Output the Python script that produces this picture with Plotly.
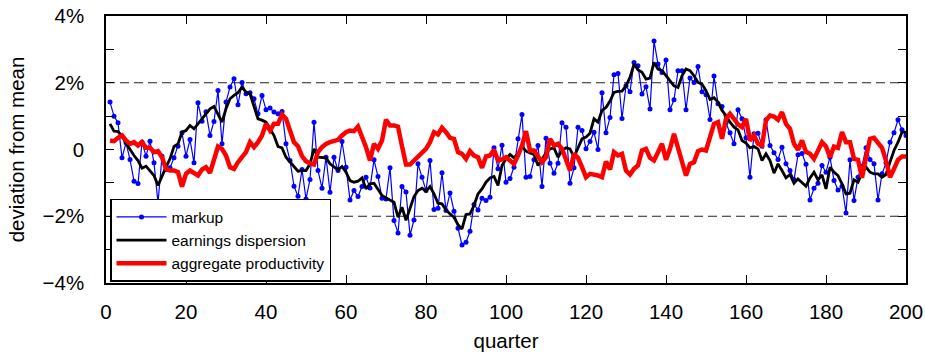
import plotly.graph_objects as go

quarters = list(range(1, 201))

markup = [
    1.42, 1.0, 0.8, -0.25, 0.2, -0.3, -0.95, -1.02, 0.22, -0.2,
    0.25, -0.4, -1.6, -0.2, -0.6, -0.55, -0.25, 0.1, 0.5, -0.2,
    0.3, -0.4, 1.4, 0.85, 1.13, 0.42, 0.84, 1.77, 0.17, 1.42,
    1.87, 2.12, 1.34, 2.01, 1.67, 1.7, 1.52, 1.07, 1.62, 1.19,
    1.24, 1.12, 1.07, 1.14, 0.17, -0.33, -1.1, -1.4, -0.6, -1.48,
    -0.9, 0.82, -0.63, -1.16, -0.23, -1.28, -0.23, -0.63, 0.24, -0.53,
    -1.51, -1.23, -1.41, -1.11, -0.83, -1.15, -0.31, -0.81, -1.46, -1.48,
    -0.55, -2.13, -2.5, -1.11, -1.27, -2.57, -2.11, -0.43, -0.83, -1.23,
    -0.33, -1.8, -1.76, -0.7, -1.83, -1.3, -1.85, -2.36, -2.86, -2.78,
    -2.45, -1.65, -1.81, -1.46, -1.53, -1.43, 0.05, -0.58, 0.13, -0.98,
    -0.87, -0.53, 0.32, 1.05, -0.83, -0.81, -0.31, 0.12, -1.11, 0.34,
    -0.41, -0.71, -0.41, 0.8, 0.67, -1.01, -0.55, 0.67, 0.57, 0.02,
    0.24, 0.52, 0.0, 1.7, 0.5, 0.96, 2.24, 2.28, 0.93, 1.91,
    1.73, 2.61, 2.51, 1.66, 1.88, 1.21, 3.25, 2.56, 2.31, 2.68,
    1.19, 1.49, 2.36, 2.36, 1.19, 2.14, 2.01, 2.49, 1.73, 1.64,
    0.9, 2.2, 1.37, 1.29, 0.8, 0.5, 0.17, 1.19, 0.92, 0.35,
    -0.83, 0.47, 0.49, 0.1, 0.89, 0.12, -0.1, -0.3, 0.07, -0.43,
    -0.63, -0.9, -0.16, -0.12, -0.44, -1.51, -1.16, -1.01, -0.48, -0.68,
    -0.23, -0.93, -1.21, -1.1, -1.9, -0.31, -1.53, -0.83, -0.5, 0.05,
    -0.3, -0.43, -1.51, -0.73, -0.4, 0.22, 0.5, 0.89, 0.59, 0.42,
]

earnings_dispersion = [
    0.77, 0.55, 0.54, 0.4, 0.19, 0.0, -0.18, -0.33, -0.56, -0.5,
    -0.63, -0.78, -1.08, -0.78, -0.53, -0.28, 0.09, 0.17, 0.52, 0.57,
    0.72, 0.62, 0.77, 0.94, 1.07, 1.22, 1.29, 1.05, 0.82, 1.22,
    1.52, 1.62, 1.7, 1.87, 1.72, 1.67, 1.3, 0.92, 0.88, 0.82,
    0.62, 0.42, 0.09, 0.05, -0.23, -0.38, -0.51, -0.65, -0.63, -0.63,
    -0.43, 0.02, -0.23, -0.25, -0.25, -0.43, -0.51, -0.61, -0.51, -0.68,
    -0.93, -0.98, -0.95, -0.85, -1.18, -1.03, -1.01, -1.18, -1.38, -1.45,
    -1.51, -1.58, -2.03, -1.73, -2.12, -1.73, -1.41, -1.23, -1.16, -1.25,
    -1.11, -1.33, -1.61, -1.63, -1.81, -1.93, -2.03, -2.25, -2.38, -1.95,
    -1.93, -1.68, -1.33, -1.18, -0.98, -0.85, -0.81, -1.08, -0.48, -0.28,
    -0.15, -0.25, -0.13, 0.09, -0.05, -0.1, -0.15, -0.48, -0.28, -0.1,
    0.02, 0.05, -0.23, -0.03, 0.05, 0.02, -0.23, 0.02, 0.32, 0.37,
    0.49, 0.92, 0.82, 1.17, 1.26, 1.45, 1.71, 1.74, 1.75, 1.91,
    2.16, 2.56, 2.38, 2.31, 2.11, 2.14, 2.61, 2.41, 2.36, 2.21,
    2.06, 1.91, 1.86, 2.21, 2.41, 2.36, 2.21, 2.01, 1.96, 1.76,
    1.5, 1.55, 1.42, 1.17, 1.02, 0.82, 0.67, 0.59, 0.27, 0.19,
    0.05, 0.09, 0.02, -0.33, -0.13, -0.33, -0.71, -0.43, -0.63, -0.85,
    -0.75, -1.01, -0.88, -0.98, -1.1, -0.85, -0.68, -0.91, -0.76, -1.18,
    -0.53, -0.68, -0.78, -1.03, -1.33, -1.31, -0.91, -0.98, -0.7, -0.53,
    -0.68, -0.73, -0.73, -0.83, -0.75, -0.38, -0.03, 0.22, 0.52, 0.52,
]

aggregate_productivity = [
    0.27, 0.25, 0.35, 0.42, 0.27, 0.17, 0.22, 0.12, 0.22, 0.05,
    0.05, -0.08, -0.05, -0.23, -0.58, -0.63, -0.63, -0.68, -1.11, -0.73,
    -0.63, -0.71, -0.78, -0.6, -0.53, -0.7, -0.28, 0.09, 0.02, -0.18,
    -0.53, -0.58, -0.38, -0.23, -0.08, 0.22, 0.07, 0.22, 0.42, 0.77,
    0.57, 0.77, 0.77, 1.05, 0.92, 0.57, 0.22, 0.1, -0.2, -0.35,
    -0.42, -0.45, -0.08, 0.07, 0.17, 0.22, 0.27, 0.29, 0.42, 0.52,
    0.57, 0.55, 0.69, 0.42, 0.07, -0.33, 0.17, 0.02, 0.27, 0.89,
    0.72, 0.72, 0.68, 0.1, -0.45, -0.45, -0.33, -0.25, -0.1, 0.02,
    0.22, 0.52, 0.45, 0.65, 0.52, 0.35, 0.32, -0.08, -0.13, -0.28,
    -0.05, -0.18, -0.23, -0.55, -0.21, -0.18, -0.01, -0.33, -0.3, -0.23,
    -0.33, -0.43, -0.18, 0.12, 0.55, -0.03, -0.03, -0.23, -0.38, -0.23,
    0.32, 0.12, 0.17, 0.02, -0.33, -0.63, -0.13, -0.25, -0.53, -0.83,
    -0.73, -0.75, -0.78, -0.83, -0.36, -0.6, -0.08, -0.18, -0.13, -0.63,
    -0.75, -0.58, -0.48, -0.03, 0.02, -0.25, -0.33, -0.08, 0.17, -0.31,
    0.02, 0.47, 0.05, -0.33, -0.78, -0.43, -0.38, -0.05, 0.0, -0.03,
    0.4, 0.77, 0.82, 0.32, 0.92, 1.07, 0.92, 0.75, 0.67, 0.92,
    0.27, 0.42, 0.17, 0.12, 0.87, 1.02, 0.99, 0.89, 1.12, 0.77,
    0.62, 0.17, -0.01, 0.27, -0.07, -0.13, -0.28, -0.05, 0.22, 0.09,
    -0.23, 0.09, 0.05, 0.52, 0.22, 0.22, -0.28, -0.31, -0.85, -0.23,
    0.32, 0.35, 0.17, 0.05, -0.33, -0.83, -0.58, -0.31, -0.21, -0.21,
]

x_tick_vals = [0, 20, 40, 60, 80, 100, 120, 140, 160, 180, 200]
y_tick_vals = [-4, -3, -2, -1, 0, 1, 2, 3, 4]
y_tick_text = ["\u22124%", "", "\u22122%", "", "0", "", "2%", "", "4%"]
reference_levels = [-2, 2]

FONT = "Liberation Sans, Arial, Helvetica, sans-serif"

fig = go.Figure()
fig.add_trace(go.Scatter(
    x=quarters, y=markup, name="markup", mode="lines+markers",
    line=dict(color="#0000ff", width=1.2),
    marker=dict(color="#0000ff", size=5),
))
fig.add_trace(go.Scatter(
    x=quarters, y=earnings_dispersion, name="earnings dispersion", mode="lines",
    line=dict(color="#000000", width=2.8),
))
fig.add_trace(go.Scatter(
    x=quarters, y=aggregate_productivity, name="aggregate productivity", mode="lines",
    line=dict(color="#ff0000", width=4.5),
))

for lvl in reference_levels:
    fig.add_hline(y=lvl, line=dict(color="#222222", width=1, dash="9px,5px"), layer="below")

axis_common = dict(
    showline=True, linecolor="black", linewidth=1.5, mirror="ticks",
    ticks="inside", ticklen=8, tickwidth=1.2, tickcolor="black",
    showgrid=False, zeroline=False, automargin=False,
    tickfont=dict(family=FONT, size=20.5, color="black"),
)

fig.update_layout(
    width=925, height=356,
    margin=dict(l=106, r=19, t=16, b=73),
    paper_bgcolor="white", plot_bgcolor="white",
    font=dict(family=FONT, color="black"),
    xaxis=dict(
        range=[0, 200], tickvals=x_tick_vals, ticklabelstandoff=10,
        title=dict(text="quarter", font=dict(family=FONT, size=20.5), standoff=11),
        **axis_common,
    ),
    yaxis=dict(
        range=[-4, 4], tickvals=y_tick_vals, ticktext=y_tick_text, ticklabelstandoff=16,
        title=dict(text="deviation from mean", font=dict(family=FONT, size=20.5), standoff=12),
        **axis_common,
    ),
    legend=dict(
        x=0.005, y=0.315, xanchor="left", yanchor="top",
        bgcolor="white", bordercolor="black", borderwidth=1.5,
        font=dict(family=FONT, size=15.5, color="black"),
        itemwidth=50, tracegroupgap=0,
    ),
    showlegend=True,
)

fig.write_html("out.html")
